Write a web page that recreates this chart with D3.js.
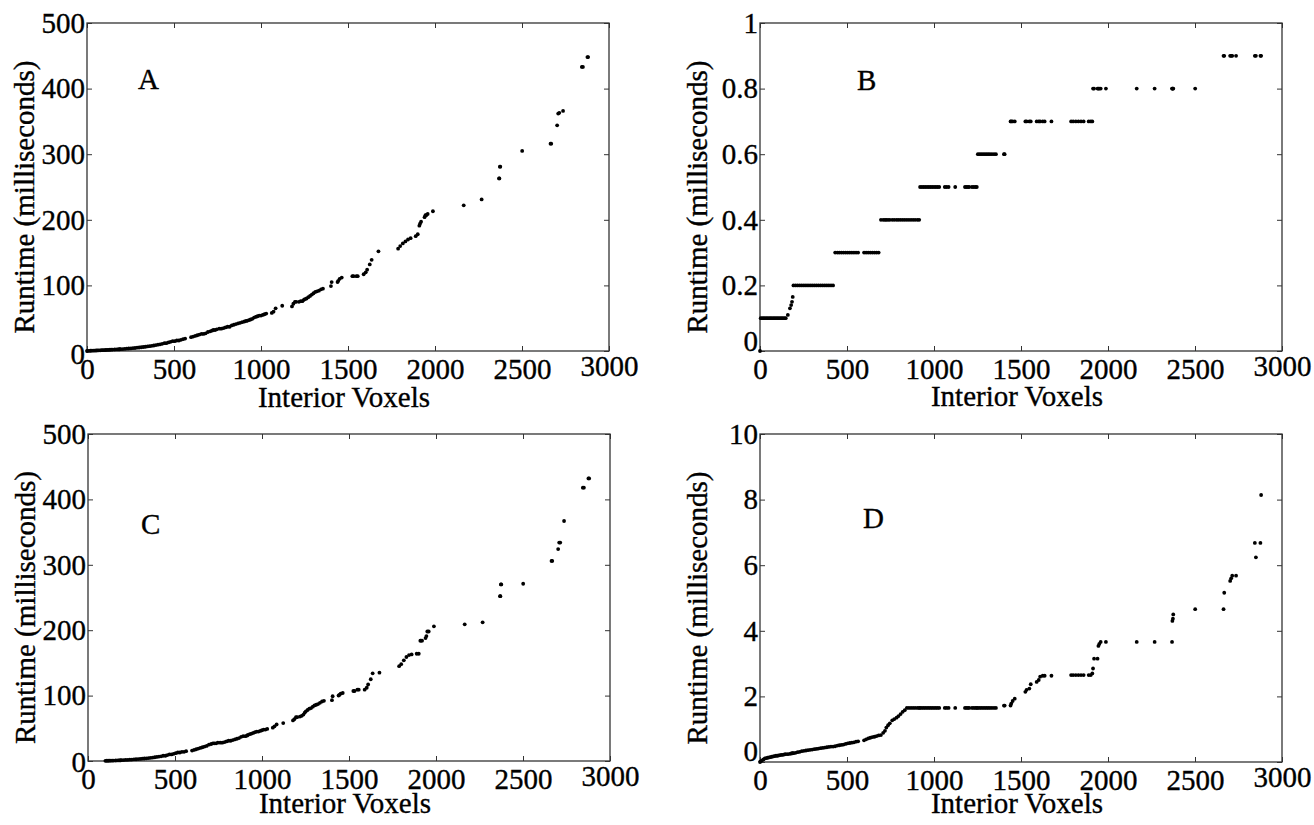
<!DOCTYPE html>
<html>
<head>
<meta charset="utf-8">
<script src="https://cdn.jsdelivr.net/npm/d3@7"></script>
<style>
    body { margin: 0; background: #fff; }
    text { font-family: "Liberation Serif", "Times New Roman", serif; fill: #000; }
</style>
</head>
<body>
<svg id="chart" width="1314" height="825"></svg>
<script>
// interior voxel count per test case (shared by all four panels)
const voxels = [
    0, 4, 12, 20, 28, 36, 44, 52, 60, 68, 76, 84, 92, 100, 108, 116, 124, 132, 140, 148,
    160, 172, 179, 184, 188,
    192, 204, 216, 228, 240, 252, 264, 276, 288, 300, 312, 324, 336, 348, 360, 372, 384, 396, 408, 420,
    432, 445, 456, 468, 480, 492, 504, 516, 528, 540, 552, 564, 598, 610, 622, 634, 646, 658, 670, 682,
    695, 708, 718, 726, 736, 746, 760, 772, 785, 796, 808, 820, 832, 844, 856, 868, 880, 892, 905, 915,
    920, 930, 940, 950, 960, 970, 980, 990, 1000, 1010, 1020, 1030,
    1062, 1072, 1084, 1122,
    1178, 1186, 1195, 1202, 1218, 1228, 1238, 1246,
    1252, 1262, 1272, 1282, 1292, 1302, 1312, 1322, 1333, 1345, 1356,
    1402, 1406, 1440, 1444, 1452, 1464,
    1525, 1532, 1548, 1556, 1590, 1602, 1610, 1625, 1636, 1675,
    1788, 1800, 1815, 1830, 1845, 1860,
    1889, 1901, 1910, 1914, 1920, 1940, 1945, 1950, 1958, 1988,
    2165, 2268,
    2368, 2370, 2373, 2375,
    2501,
    2664, 2668, 2702, 2708, 2714, 2736,
    2844, 2850, 2876, 2880
];

// runtimes in milliseconds, same order as voxels
const runtimeA = [
    0, 0.2, 0.3, 0.4, 0.5, 0.6, 0.7, 0.8, 0.9, 1.0, 1.1, 1.2, 1.3, 1.4, 1.5, 1.6, 1.8, 1.9, 2.0, 2.2,
    2.3, 2.4, 2.5, 2.6, 2.7,
    2.8, 3.0, 3.2, 3.5, 3.8, 4.0, 4.3, 4.6, 5.0, 5.3, 5.7, 6.1, 6.5, 7.0, 7.4, 7.9, 8.4, 9.0, 9.6, 10.2,
    11, 12, 12, 13, 14, 15, 15, 16, 16, 17, 18, 19, 21, 22, 23, 24, 25, 26, 26, 27,
    29, 30, 31, 32, 32, 33, 34, 34, 35, 36, 37, 37, 39, 40, 41, 42, 43, 44, 45, 46,
    46, 47, 48, 49, 51, 52, 53, 54, 54, 55, 56, 57,
    58, 60, 65, 69,
    68, 72, 75, 75, 75, 76, 76, 78,
    79, 80, 82, 84, 86, 88, 90, 91, 92, 94, 95,
    99, 105, 105, 107, 110, 112,
    114, 114, 114, 114, 117, 120, 124, 132, 139, 152,
    156, 160, 164, 167, 170, 172,
    175, 178, 191, 194, 197, 204, 207, 207, 209, 213,
    222, 231,
    263, 263, 281, 281,
    305,
    316, 316, 344, 362, 363, 366,
    433, 433, 448, 448
];

const runtimeB = [
    0, 0.1, 0.1, 0.1, 0.1, 0.1, 0.1, 0.1, 0.1, 0.1, 0.1, 0.1, 0.1, 0.1, 0.1, 0.1, 0.1, 0.1, 0.1, 0.1,
    0.11, 0.13, 0.14, 0.15, 0.165,
    0.2, 0.2, 0.2, 0.2, 0.2, 0.2, 0.2, 0.2, 0.2, 0.2, 0.2, 0.2, 0.2, 0.2, 0.2, 0.2, 0.2, 0.2, 0.2, 0.2,
    0.3, 0.3, 0.3, 0.3, 0.3, 0.3, 0.3, 0.3, 0.3, 0.3, 0.3, 0.3, 0.3, 0.3, 0.3, 0.3, 0.3, 0.3, 0.3, 0.3,
    0.4, 0.4, 0.4, 0.4, 0.4, 0.4, 0.4, 0.4, 0.4, 0.4, 0.4, 0.4, 0.4, 0.4, 0.4, 0.4, 0.4, 0.4, 0.4, 0.4,
    0.5, 0.5, 0.5, 0.5, 0.5, 0.5, 0.5, 0.5, 0.5, 0.5, 0.5, 0.5,
    0.5, 0.5, 0.5, 0.5,
    0.5, 0.5, 0.5, 0.5, 0.5, 0.5, 0.5, 0.5,
    0.6, 0.6, 0.6, 0.6, 0.6, 0.6, 0.6, 0.6, 0.6, 0.6, 0.6,
    0.6, 0.6, 0.7, 0.7, 0.7, 0.7,
    0.7, 0.7, 0.7, 0.7, 0.7, 0.7, 0.7, 0.7, 0.7, 0.7,
    0.7, 0.7, 0.7, 0.7, 0.7, 0.7,
    0.7, 0.7, 0.7, 0.8, 0.8, 0.8, 0.8, 0.8, 0.8, 0.8,
    0.8, 0.8,
    0.8, 0.8, 0.8, 0.8,
    0.8,
    0.9, 0.9, 0.9, 0.9, 0.9, 0.9,
    0.9, 0.9, 0.9, 0.9
];

// null = no visible marker for that case
const runtimeC = [
    null, null, null, null, null, null, null, null, null, null, null, null, null, 0.3, 0.35, 0.4, 0.45, 0.5, 0.6, 0.7,
    0.8, 0.9, 1.0, 1.0, 1.1,
    1.2, 1.4, 1.6, 1.8, 2.0, 2.2, 2.5, 2.7, 3.0, 3.2, 3.5, 3.8, 4.1, 4.5, 4.9, 5.3, 5.7, 6.2, 6.7, 7.2,
    8, 8, 9, 10, 10, 11, 12, 13, 13, 14, 14, 15, 16, 17, 18, 19, 20, 21, 22, 23,
    25, 26, 27, 27, 27, 28, 28, 28, 29, 30, 31, 31, 32, 33, 34, 35, 37, 38, 38, 39,
    40, 41, 42, 43, 44, 45, 45, 46, 47, 48, 48, 49,
    51, 53, 56, 58,
    62, 64, 67, 67, 68, 69, 71, 74,
    76, 78, 80, 81, 83, 85, 86, 87, 89, 91, 92,
    93, 99, 100, 101, 103, 104,
    107, 107, 109, 109, 109, 112, 117, 125, 134, 135,
    145, 148, 154, 159, 162, 163,
    164, 164, 184, 184, 184, 188, 191, 198, 198, 206,
    209, 212,
    252, 252, 270, 270,
    271,
    306, 306, 324, 334, 334, 367,
    418, 418, 432, 432
];

const runtimeD = [
    0, 0.02, 0.05, 0.08, 0.11, 0.12, 0.13, 0.14, 0.15, 0.16, 0.17, 0.18, 0.19, 0.19, 0.20, 0.21, 0.22, 0.22, 0.23, 0.24,
    0.24, 0.25, 0.26, 0.26, 0.27,
    0.27, 0.28, 0.30, 0.31, 0.33, 0.34, 0.35, 0.36, 0.37, 0.38, 0.39, 0.40, 0.41, 0.42, 0.43, 0.44, 0.45, 0.46, 0.47, 0.47,
    0.48, 0.50, 0.51, 0.52, 0.53, 0.55, 0.57, 0.58, 0.59, 0.60, 0.62, 0.63, 0.66, 0.69, 0.72, 0.74, 0.76, 0.77, 0.79, 0.81,
    0.82, 0.89, 0.95, 1.05, 1.12, 1.18, 1.27, 1.31, 1.35, 1.40, 1.46, 1.53, 1.58, 1.65, 1.65, 1.65, 1.65, 1.65, 1.65, 1.65,
    1.65, 1.65, 1.65, 1.65, 1.65, 1.65, 1.65, 1.65, 1.65, 1.65, 1.65, 1.65,
    1.65, 1.65, 1.65, 1.65,
    1.65, 1.65, 1.65, 1.65, 1.65, 1.65, 1.65, 1.65,
    1.65, 1.65, 1.65, 1.65, 1.65, 1.65, 1.65, 1.65, 1.65, 1.65, 1.65,
    1.72, 1.72, 1.72, 1.78, 1.86, 1.93,
    2.14, 2.2, 2.24, 2.37, 2.44, 2.5, 2.6, 2.63, 2.63, 2.63,
    2.65, 2.65, 2.65, 2.65, 2.65, 2.65,
    2.65, 2.65, 2.7, 2.85, 3.15, 3.15, 3.54, 3.6, 3.66, 3.66,
    3.66, 3.66,
    3.66, 4.3, 4.37, 4.5,
    4.66,
    4.66, 5.16, 5.52, 5.6, 5.68, 5.68,
    6.68, 6.24, 6.68, 8.14
];

// tick values
const xTicks = [0, 500, 1000, 1500, 2000, 2500, 3000];
const yTicksMs = [0, 100, 200, 300, 400, 500];
const yTicksB = [0, 0.2, 0.4, 0.6, 0.8, 1];
const yTicksD = [0, 2, 4, 6, 8, 10];

// panel layout, built from the arrays above
const panels = [
    { name: 'A', values: runtimeA, ticks: yTicksMs, left: 87, right: 609, top: 23, bottom: 351,
      letterX: 138, letterY: 89, zeroShift: 3, titleGap: 56 },
    { name: 'B', values: runtimeB, ticks: yTicksB, left: 760, right: 1282, top: 23, bottom: 351,
      letterX: 857, letterY: 90, zeroShift: -10, titleGap: 55 },
    { name: 'C', values: runtimeC, ticks: yTicksMs, left: 88, right: 610, top: 434, bottom: 761,
      letterX: 141, letterY: 534, zeroShift: 1, titleGap: 52 },
    { name: 'D', values: runtimeD, ticks: yTicksD, left: 760, right: 1282, top: 434, bottom: 762,
      letterX: 863, letterY: 528, zeroShift: -11, titleGap: 51 }
];

const svg = d3.select('#chart');
const fontSize = 29;
const axisColor = '#333';

panels.forEach(drawPanel);

// the scanned original has slightly heavier glyphs
svg.selectAll('text')
    .attr('stroke', '#000')
    .attr('stroke-width', 0.35);

function drawPanel(p) {
    const x = d3.scaleLinear().domain([0, 3000]).range([p.left, p.right]);
    const y = d3.scaleLinear().domain([0, d3.max(p.ticks)]).range([p.bottom, p.top]);
    const g = svg.append('g');

    // bottom axis, ticks pointing inward
    const bottom = g.append('g')
        .attr('transform', `translate(0,${p.bottom})`)
        .style('color', axisColor)
        .call(d3.axisBottom(x).tickValues(xTicks).tickSize(-5).tickPadding(7.5).tickFormat(d3.format('d')));
    // last label sits a little higher in the original
    bottom.selectAll('.tick text').filter(d => d === 3000).attr('y', 4.5);

    // left axis
    const left = g.append('g')
        .attr('transform', `translate(${p.left},0)`)
        .style('color', axisColor)
        .call(d3.axisLeft(y).tickValues(p.ticks).tickSize(-5).tickPadding(2).tickFormat(d => String(d)));
    left.selectAll('.tick text').filter(d => d === 0).attr('transform', `translate(0,${p.zeroShift})`);

    // top and right: ticks only
    g.append('g')
        .attr('transform', `translate(0,${p.top})`)
        .style('color', axisColor)
        .call(d3.axisTop(x).tickValues(xTicks).tickSize(-5).tickFormat(''));
    g.append('g')
        .attr('transform', `translate(${p.right},0)`)
        .style('color', axisColor)
        .call(d3.axisRight(y).tickValues(p.ticks).tickSize(-5).tickFormat(''));

    g.selectAll('.domain').remove();
    g.selectAll('.tick text')
        .style('font-family', '"Liberation Serif", "Times New Roman", serif')
        .style('font-size', fontSize + 'px')
        .attr('fill', '#000');

    // frame
    g.append('rect')
        .attr('x', p.left)
        .attr('y', p.top)
        .attr('width', p.right - p.left)
        .attr('height', p.bottom - p.top)
        .attr('fill', 'none')
        .attr('stroke', axisColor)
        .attr('stroke-width', 1.3);

    // data points
    const pts = voxels.map((v, i) => ({ v: v, t: p.values[i] })).filter(d => d.t !== null);
    g.append('g')
        .selectAll('circle')
        .data(pts)
        .enter()
        .append('circle')
        .attr('cx', d => x(d.v))
        .attr('cy', d => y(d.t))
        .attr('r', 1.9)
        .attr('fill', '#000');

    // axis titles
    g.append('text')
        .attr('x', (p.left + p.right) / 2 - 4)
        .attr('y', p.bottom + p.titleGap)
        .attr('text-anchor', 'middle')
        .style('font-size', fontSize + 'px')
        .text('Interior Voxels');

    g.append('text')
        .attr('transform', `translate(${p.left - 53},${(p.top + p.bottom) / 2 + 10}) rotate(-90)`)
        .attr('text-anchor', 'middle')
        .style('font-size', fontSize + 'px')
        .text('Runtime (milliseconds)');

    // panel letter
    g.append('text')
        .attr('x', p.letterX)
        .attr('y', p.letterY)
        .style('font-size', fontSize + 'px')
        .text(p.name);
}
</script>
</body>
</html>
